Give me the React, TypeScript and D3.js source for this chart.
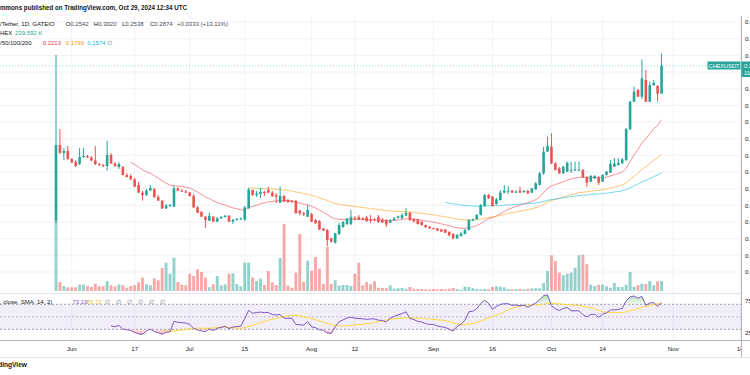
import React from "react";
import * as d3 from "d3";

// ---------- data (daily bars, CHEX/USDT, Gate.io) ----------
const FIRST_BAR = "2024-05-28";
const opens = [
  0.1024,0.1924,0.1828,0.1852,0.1756,0.172,0.1696,0.178,0.1792,0.1774,
  0.1738,0.1696,0.1684,0.1672,0.1804,0.1702,0.166,0.166,0.1564,0.1552,
  0.1512,0.1444,0.1352,0.1324,0.1378,0.1396,0.13,0.1256,0.1164,0.1198,
  0.1184,0.1404,0.1376,0.1364,0.1352,0.1312,0.1176,0.112,0.1064,0.1016,
  0.1064,0.1004,0.1044,0.106,0.1076,0.1004,0.1028,0.1036,0.1032,0.1164,
  0.1384,0.1324,0.1336,0.136,0.1384,0.1352,0.1324,0.1232,0.1312,0.1264,
  0.1252,0.1252,0.1138,0.1108,0.1064,0.1096,0.1024,0.1012,0.0924,0.0904,
  0.0804,0.0752,0.0856,0.094,0.0976,0.0976,0.1048,0.106,0.1042,0.1054,
  0.1024,0.103,0.106,0.103,0.1024,0.0992,0.1024,0.1048,0.1044,0.1078,
  0.1112,0.1032,0.1032,0.1004,0.0964,0.0944,0.0924,0.0924,0.0912,0.0912,
  0.088,0.0856,0.0804,0.0832,0.0856,0.0904,0.1016,0.1032,0.1084,0.1192,
  0.1324,0.1304,0.1216,0.1264,0.1352,0.1364,0.1376,0.136,0.1376,0.1364,
  0.1376,0.1352,0.1392,0.1444,0.1584,0.1844,0.1904,0.1704,0.1644,0.1584,
  0.1604,0.1618,0.1624,0.162,0.1624,0.1536,0.1484,0.1524,0.1536,0.1484,
  0.1564,0.1592,0.1664,0.1684,0.1704,0.1744,0.2112,0.2444,0.2584,0.2504,
  0.2704,0.2444,0.2644,0.2632,0.2542,
];
const highs = [
  0.3004,0.2116,0.1888,0.1912,0.1768,0.1744,0.1888,0.1888,0.1804,0.1792,
  0.1912,0.1708,0.1696,0.1976,0.1828,0.172,0.172,0.1672,0.1588,0.1576,
  0.1528,0.148,0.1372,0.1396,0.1444,0.1408,0.1324,0.1264,0.1216,0.1216,
  0.1432,0.142,0.1396,0.1384,0.136,0.1336,0.1192,0.1132,0.1072,0.1112,
  0.1072,0.106,0.1072,0.1084,0.1084,0.1036,0.1048,0.1054,0.1192,0.1408,
  0.139,0.1372,0.1412,0.1372,0.1424,0.1372,0.1348,0.1424,0.1324,0.1276,
  0.1264,0.1264,0.1144,0.112,0.1204,0.1108,0.1036,0.1024,0.0928,0.0916,
  0.0808,0.0868,0.0988,0.1012,0.1048,0.1144,0.1072,0.1084,0.106,0.1072,
  0.1084,0.1048,0.1084,0.1048,0.1036,0.1036,0.106,0.1078,0.1108,0.1164,
  0.112,0.1048,0.1036,0.1012,0.097,0.0952,0.0934,0.0928,0.0916,0.0916,
  0.0892,0.0868,0.0856,0.088,0.0916,0.1036,0.1042,0.1096,0.1216,0.1336,
  0.1336,0.1312,0.1288,0.1384,0.1444,0.1432,0.1384,0.1384,0.1424,0.1384,
  0.1384,0.1408,0.148,0.16,0.1904,0.2024,0.2064,0.172,0.166,0.1672,
  0.1724,0.1724,0.1724,0.1724,0.1636,0.1552,0.1564,0.1564,0.1552,0.1576,
  0.1612,0.1744,0.1768,0.1768,0.1768,0.2128,0.2452,0.2624,0.2596,0.2952,
  0.2824,0.2684,0.2704,0.2644,0.302,
];
const lows = [
  0.0988,0.1816,0.1744,0.1744,0.1708,0.166,0.1684,0.1768,0.1768,0.1732,
  0.1684,0.1672,0.166,0.1616,0.1696,0.166,0.1636,0.1558,0.1534,0.1504,
  0.142,0.1348,0.1256,0.1312,0.1372,0.1288,0.1252,0.1156,0.1156,0.118,
  0.118,0.1372,0.136,0.1348,0.1306,0.1168,0.1108,0.106,0.0928,0.1012,
  0.1,0.1,0.1036,0.1054,0.1,0.0976,0.1018,0.1024,0.1012,0.1162,
  0.1312,0.13,0.1288,0.1312,0.1348,0.13,0.1228,0.1228,0.124,0.1228,
  0.1228,0.1102,0.1078,0.1072,0.106,0.1,0.098,0.0904,0.0892,0.0712,
  0.0754,0.0742,0.0844,0.0928,0.0964,0.0964,0.1018,0.1024,0.1024,0.1,
  0.0988,0.1012,0.0988,0.0988,0.094,0.0988,0.1012,0.1042,0.1036,0.1072,
  0.1012,0.1,0.097,0.0958,0.0932,0.0916,0.0916,0.0892,0.088,0.0868,
  0.0832,0.0792,0.0796,0.0826,0.085,0.0898,0.1012,0.103,0.1078,0.1186,
  0.1276,0.1186,0.1204,0.1258,0.1348,0.1336,0.1348,0.1348,0.1348,0.1348,
  0.1336,0.1348,0.1384,0.1438,0.1564,0.184,0.1696,0.1618,0.1576,0.1576,
  0.16,0.1588,0.1612,0.1612,0.1528,0.1424,0.148,0.1516,0.1444,0.148,
  0.1558,0.1588,0.166,0.1678,0.1696,0.1732,0.2104,0.244,0.25,0.2476,
  0.244,0.244,0.2632,0.2444,0.2538,
];
const closes = [
  0.1924,0.1832,0.1852,0.1756,0.1714,0.1672,0.178,0.1792,0.1774,0.1738,
  0.1696,0.1684,0.1672,0.1804,0.1702,0.1672,0.1696,0.1564,0.154,0.1512,
  0.1424,0.1352,0.1324,0.1378,0.1408,0.13,0.1256,0.1164,0.1198,0.1204,
  0.1404,0.1376,0.1364,0.1352,0.1312,0.1176,0.1112,0.1064,0.1024,0.1072,
  0.1004,0.1044,0.106,0.1076,0.1004,0.1028,0.1036,0.1044,0.1176,0.1392,
  0.1324,0.1342,0.136,0.1348,0.1352,0.1312,0.1304,0.1312,0.1244,0.124,
  0.124,0.1104,0.1102,0.109,0.1144,0.1004,0.0984,0.091,0.0896,0.0784,
  0.0764,0.0864,0.0964,0.1,0.1042,0.106,0.1036,0.103,0.1024,0.1012,
  0.102,0.1018,0.1,0.0994,0.097,0.102,0.1042,0.1066,0.1084,0.1112,
  0.1024,0.1004,0.0976,0.0964,0.0936,0.0924,0.0922,0.0896,0.0884,0.0872,
  0.084,0.0804,0.0844,0.0864,0.0904,0.1024,0.1032,0.1084,0.1204,0.1324,
  0.1284,0.1192,0.1272,0.1352,0.1376,0.1376,0.1352,0.1364,0.1352,0.1372,
  0.1344,0.1404,0.1464,0.1584,0.1844,0.1912,0.1704,0.1624,0.1584,0.1664,
  0.1712,0.1628,0.163,0.1628,0.1536,0.1472,0.1552,0.1552,0.1472,0.1564,
  0.1604,0.1696,0.1704,0.1712,0.1752,0.2116,0.2444,0.2564,0.2504,0.2724,
  0.2444,0.2644,0.2672,0.2541,0.2874,
];
// volume, thousands of CHEX
const volumes = [
  1750,216,120,89,89,89,151,151,120,96,
  175,113,113,240,137,113,161,137,79,120,
  137,209,319,161,137,305,257,552,679,415,
  799,216,151,137,415,360,521,456,319,89,
  161,360,137,161,415,425,168,113,679,679,
  319,240,295,144,480,209,144,792,1608,127,
  79,439,1368,216,727,487,816,535,168,1063,
  168,257,127,144,144,120,415,679,137,216,
  161,233,79,72,72,137,55,65,72,55,
  96,55,48,48,41,41,48,41,48,41,
  55,72,48,31,103,96,72,48,41,48,
  41,96,113,103,89,48,41,48,55,41,
  55,65,65,65,192,480,857,720,439,377,
  415,439,559,857,871,641,151,120,151,151,
  113,79,192,96,96,151,456,96,137,175,
  168,240,137,233,239.592,
];

const priceTicks = [0.04,0.06,0.08,0.10,0.12,0.14,0.16,0.18,0.20,0.22,0.24,0.26,0.28,0.30,0.32,0.34];
const timeTickDates = ["2024-06-01","2024-06-17","2024-07-01","2024-07-15","2024-08-01","2024-08-12","2024-09-01","2024-09-16","2024-10-01","2024-10-14","2024-11-01","2024-11-18"];
const timeTickLabels = ["Jun","17","Jul","15","Aug","12","Sep","16","Oct","14","Nov","18"];
const emaLengths = [20, 50, 100];
const emaColors = ["#f23645", "#ff9800", "#00bcd4"];
const rsiLength = 14;
const rsiMaLength = 14;
const rsiBands = [70, 50, 30];
const rsiScaleLabels = ["75.00", "25.00"];

const titleText = "mmons published on TradingView.com, Oct 29, 2024 12:34 UTC";
const symbolText = "/Tether, 1D, GATEIO";
const ohlcLabels = ["O", "H", "L", "C"];
const ohlcValues = ["0.2542", "0.3020", "0.2538", "0.2874"];
const changeText = "+0.0333 (+13.11%)";
const volLabel = "HEX";
const volValue = "239.592 K";
const emaLabel = "/50/100/200";
const emaValues = ["0.2213", "0.1799", "0.1574"];
const rsiLabel = ", close, SMA, 14, 2)";
const rsiValues = ["73.19", "70.72"];
const lastPriceText = "0.2874";
const countdownText = "11:25:33";
const symbolTag = "CHEXUSDT";

// ---------- indicators computed from the closes ----------
function emaSeries(src: number[], len: number) {
  const out: (number | null)[] = src.map(() => null);
  if (src.length < len) return out;
  let v = d3.mean(src.slice(0, len)) as number;
  out[len - 1] = v;
  const a = 2 / (len + 1);
  for (let i = len; i < src.length; i++) {
    v = a * src[i] + (1 - a) * v;
    out[i] = v;
  }
  return out;
}
function rsiSeries(src: number[], len: number) {
  const out: (number | null)[] = src.map(() => null);
  let g = 0, l = 0;
  for (let i = 1; i <= len; i++) {
    const d = src[i] - src[i - 1];
    g += Math.max(d, 0);
    l += Math.max(-d, 0);
  }
  g /= len; l /= len;
  out[len] = l === 0 ? 100 : 100 - 100 / (1 + g / l);
  for (let i = len + 1; i < src.length; i++) {
    const d = src[i] - src[i - 1];
    g = (g * (len - 1) + Math.max(d, 0)) / len;
    l = (l * (len - 1) + Math.max(-d, 0)) / len;
    out[i] = l === 0 ? 100 : 100 - 100 / (1 + g / l);
  }
  return out;
}
function smaSeries(src: (number | null)[], len: number) {
  return src.map((_, i) => {
    if (i < len - 1) return null;
    const w = src.slice(i - len + 1, i + 1);
    if (w.some((v) => v == null)) return null;
    return d3.mean(w as number[]) as number;
  });
}

const UP = "#26a69a";
const DOWN = "#ef5350";
const FONT = "'Liberation Sans', Arial, sans-serif";
const TXT = "#131722";
const LEG = "#4a4e59";

export default function App() {
  const W = 750, H = 375;
  const paneR = 741;
  const mainTop = 16, mainBot = 293.5;
  const rsiTop = 293.5, rsiBot = 340.5;

  const parse = d3.utcParse("%Y-%m-%d");
  const start = parse(FIRST_BAR) as Date;
  const dates = d3.utcDay.range(start, d3.utcDay.offset(start, closes.length));
  const x = d3.scaleUtc().domain([start, parse("2024-11-18") as Date]).range([56, 740.2]);
  const yP = d3.scaleLinear().domain([0.04, 0.32]).range([272, 38.7]);
  const yV = d3.scaleLinear().domain([0, 1800]).range([291, 216]);
  const yR = d3.scaleLinear().domain([30, 70]).range([329.3, 304.3]);

  const bw = 2.6;
  const emas = emaLengths.map((n) => emaSeries(closes, n));
  const rsi = rsiSeries(closes, rsiLength);
  const rsiMa = smaSeries(rsi, rsiMaLength);

  const lineGen = (ys: (v: number) => number) =>
    d3.line<number | null>()
      .defined((d) => d != null)
      .x((_, i) => x(dates[i]))
      .y((d) => ys(d as number));

  const obArea = d3.area<number | null>()
    .defined((d) => d != null)
    .x((_, i) => x(dates[i]))
    .y0(yR(70))
    .y1((d) => yR(Math.max(d as number, 70)));
  const osArea = d3.area<number | null>()
    .defined((d) => d != null)
    .x((_, i) => x(dates[i]))
    .y0(yR(30))
    .y1((d) => yR(Math.min(d as number, 30)));

  const lastY = yP(closes[closes.length - 1]);
  // axis labels hidden behind the last-price tag are not drawn (as on the platform)
  const axisTicks = priceTicks.filter((t) => Math.abs(yP(t) - (61.5 + 7.75)) > 9);

  return (
    <div style={{ position: "fixed", left: 0, top: 0, width: W, height: H, background: "#fff" }}>
      <svg width={W} height={H} viewBox={`0 0 ${W} ${H}`} style={{ display: "block", fontFamily: FONT }}>
        <defs>
          <clipPath id="mainClip"><rect x={0} y={mainTop} width={paneR} height={mainBot - mainTop} /></clipPath>
          <clipPath id="rsiClip"><rect x={0} y={rsiTop} width={paneR} height={rsiBot - rsiTop} /></clipPath>
          <clipPath id="timeClip"><rect x={0} y={rsiBot} width={paneR} height={18} /></clipPath>
          <linearGradient id="obGrad" x1="0" y1="0" x2="0" y2="1">
            <stop offset="0%" stopColor="#4caf50" stopOpacity={0.45} />
            <stop offset="100%" stopColor="#4caf50" stopOpacity={0.05} />
          </linearGradient>
          <linearGradient id="osGrad" x1="0" y1="1" x2="0" y2="0">
            <stop offset="0%" stopColor="#f23645" stopOpacity={0.45} />
            <stop offset="100%" stopColor="#f23645" stopOpacity={0.05} />
          </linearGradient>
        </defs>
        <rect x={0} y={0} width={W} height={H} fill="#fff" />

        {/* grid */}
        {priceTicks.map((t) => (
          <line key={"hg" + t} x1={0} x2={paneR} y1={yP(t)} y2={yP(t)} stroke="#f0f3fa" strokeWidth={1} clipPath="url(#mainClip)" />
        ))}
        {timeTickDates.map((d) => {
          const xx = x(parse(d) as Date);
          return <line key={"vg" + d} x1={xx} x2={xx} y1={mainTop} y2={rsiBot} stroke="#f0f3fa" strokeWidth={1} />;
        })}

        {/* main pane */}
        <g clipPath="url(#mainClip)">
          {volumes.map((v, i) => {
            const up = closes[i] >= opens[i];
            const cx = x(dates[i]);
            return (
              <rect key={"v" + i} x={cx - 1.45} y={yV(v)} width={2.9} height={yV(0) - yV(v)}
                fill={up ? "rgba(38,166,154,0.5)" : "rgba(239,83,80,0.5)"} />
            );
          })}
          {emas.map((s, k) => (
            <path key={"ema" + k} d={lineGen(yP)(s) || ""} fill="none" stroke={emaColors[k]} strokeOpacity={0.55} strokeWidth={1} />
          ))}
          {closes.map((c, i) => {
            const o = opens[i];
            const h = Math.max(highs[i], o, c);
            const l = Math.min(lows[i], o, c);
            const up = c >= o;
            const col = up ? UP : DOWN;
            const cx = x(dates[i]);
            const yt = yP(Math.max(o, c));
            const yb = yP(Math.min(o, c));
            return (
              <g key={"c" + i}>
                <line x1={cx} x2={cx} y1={yP(h)} y2={yP(l)} stroke={col} strokeWidth={1} />
                <rect x={cx - bw / 2} y={yt} width={bw} height={Math.max(1, yb - yt)} fill={col} />
              </g>
            );
          })}
          <line x1={0} x2={paneR} y1={lastY} y2={lastY} stroke={UP} strokeOpacity={0.45} strokeWidth={1} strokeDasharray="1,2" />
        </g>

        {/* RSI pane */}
        <g clipPath="url(#rsiClip)">
          <rect x={0} y={yR(70)} width={paneR} height={yR(30) - yR(70)} fill="rgba(126,87,194,0.1)" />
          {rsiBands.map((b) => (
            <line key={"rb" + b} x1={0} x2={paneR} y1={yR(b)} y2={yR(b)} stroke="#787b86" strokeOpacity={b === 50 ? 0.4 : 0.7} strokeWidth={1} strokeDasharray="2,2" />
          ))}
          <path d={obArea(rsi) || ""} fill="url(#obGrad)" />
          <path d={osArea(rsi) || ""} fill="url(#osGrad)" />
          <path d={lineGen(yR)(rsiMa) || ""} fill="none" stroke="#fdd835" strokeWidth={1} />
          <path d={lineGen(yR)(rsi) || ""} fill="none" stroke="#7e57c2" strokeWidth={1} />
        </g>

        {/* pane separators / axes */}
        <line x1={0} x2={paneR} y1={rsiTop} y2={rsiTop} stroke="#e0e3eb" strokeWidth={1} />
        <line x1={0} x2={W} y1={rsiBot} y2={rsiBot} stroke="#b2b5be" strokeWidth={1} />
        <line x1={paneR + 0.5} x2={paneR + 0.5} y1={mainTop} y2={rsiBot + 17} stroke="#b2b5be" strokeWidth={1} />
        <line x1={0} x2={W} y1={357.5} y2={357.5} stroke="#e0e3eb" strokeWidth={1} />

        {/* price axis labels */}
        {axisTicks.map((t) => (
          <text key={"pl" + t} x={745} y={yP(t) + 2.2} fontSize={6.2} fill={TXT}>{d3.format(".4f")(t)}</text>
        ))}
        {rsiScaleLabels.map((t) => (
          <text key={"rl" + t} x={745} y={yR(+t) + 2.2} fontSize={6.2} fill={TXT}>{t}</text>
        ))}

        {/* last price tags */}
        <rect x={707.5} y={61.5} width={33} height={8} fill={UP} />
        <text x={724} y={67.6} fontSize={5.6} fill="#fff" textAnchor="middle">{symbolTag}</text>
        <rect x={paneR + 0.5} y={61.5} width={12} height={15.5} fill={UP} />
        <text x={744} y={67.6} fontSize={5.8} fill="#fff">{lastPriceText}</text>
        <text x={744} y={74.8} fontSize={5.8} fill="#fff">{countdownText}</text>

        {/* time axis */}
        <g clipPath="url(#timeClip)">
          {timeTickDates.map((d, i) => (
            <text key={"tl" + d} x={x(parse(d) as Date)} y={351} fontSize={6.2} fill={TXT} textAnchor="middle">{timeTickLabels[i]}</text>
          ))}
        </g>

        {/* header / legends */}
        <text x={0} y={9.6} fontSize={6.6} fontWeight={700} fill={TXT} textLength={187} lengthAdjust="spacingAndGlyphs">{titleText}</text>
        <text y={26} fontSize={6} fill={TXT}>
          <tspan x={0}>{symbolText}</tspan>
          {ohlcLabels.map((lab, i) => (
            <tspan key={lab} x={65.7 + i * 28.1}>
              {lab}
              <tspan fill={LEG}>{ohlcValues[i]}</tspan>
            </tspan>
          ))}
          <tspan x={177} fill={LEG}>{changeText}</tspan>
        </text>
        <text y={35} fontSize={6} fill={TXT}>
          <tspan x={0}>{volLabel}</tspan>
          <tspan x={15} fill={UP}>{volValue}</tspan>
        </text>
        <text y={44.6} fontSize={6} fill={TXT}>
          <tspan x={0}>{emaLabel}</tspan>
          <tspan x={42.7} fill={emaColors[0]}>{emaValues[0]}</tspan>
          <tspan x={65.7} fill={emaColors[1]}>{emaValues[1]}</tspan>
          <tspan x={87.3} fill={emaColors[2]}>{emaValues[2]}</tspan>
          <tspan x={106.5} fill="#787b86">∅</tspan>
        </text>
        <text y={303.5} fontSize={6} fill={TXT}>
          <tspan x={0}>{rsiLabel}</tspan>
          <tspan x={72.5} fill="#7e57c2">{rsiValues[0]}</tspan>
          <tspan x={86.5} fill="#e5c21b">{rsiValues[1]}</tspan>
          {[0, 1, 2, 3, 4, 5].map((k) => (
            <tspan key={k} x={105 + k * 10.9} fill="#787b86">∅</tspan>
          ))}
        </text>
        <text x={27} y={367} fontSize={6.6} fontWeight={700} fill={TXT} textAnchor="end">TradingView</text>
      </svg>
    </div>
  );
}
